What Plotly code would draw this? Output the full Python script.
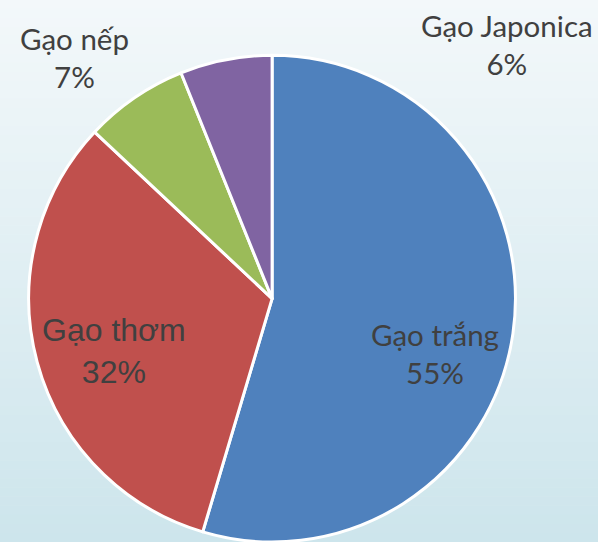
import plotly.graph_objects as go

labels = ['Gạo trắng', 'Gạo thơm', 'Gạo nếp', 'Gạo Japonica']
values = [54.6, 32.4, 6.9, 6.1]
colors = ['#4F81BD', '#C0504D', '#9BBB59', '#8064A2']

total = sum(values)
pcts = [f'{v / total * 100:.0f}%' for v in values]

fig = go.Figure(go.Pie(
    labels=labels, values=values, sort=False, direction='clockwise', rotation=0,
    marker=dict(colors=colors, line=dict(color='white', width=3)),
    textinfo='none', hoverinfo='label+percent', showlegend=False,
    domain=dict(x=[0.047, 0.863], y=[0.0, 0.898]),
))

# vertical background gradient (light to pale blue)
top, bot = (243, 248, 250), (205, 229, 236)
n = 60
for i in range(n):
    t = i / (n - 1)
    c = tuple(round(top[k] + (bot[k] - top[k]) * t) for k in range(3))
    fig.add_shape(type='rect', xref='paper', yref='paper', x0=0, x1=1,
                  y0=1 - (i + 1) / n, y1=1 - i / n + 0.001,
                  fillcolor='rgb(%d,%d,%d)' % c, line_width=0, layer='below')

# label positions (paper coords) and styling
arial = dict(family='Liberation Sans, Arial', size=32, color='#404040')
calibri = dict(family='Lato, Open Sans', size=29.5, color='#404040')
fonts = [calibri, arial, calibri, calibri]
pos = [(435 / 598, 1 - 353 / 542), (114 / 598, 1 - 351 / 542),
       (74 / 598, 1 - 57 / 542), (507 / 598, 1 - 45 / 542)]
for i, (lab, p) in enumerate(zip(labels, pcts)):
    fig.add_annotation(x=pos[i][0], y=pos[i][1], xref='paper', yref='paper',
                       xanchor='center', yanchor='middle',
                       text=lab + '<br>' + p, showarrow=False, font=fonts[i])

fig.update_layout(width=598, height=542, margin=dict(l=0, r=0, t=0, b=0),
                  paper_bgcolor='#eaf4f7', plot_bgcolor='rgba(0,0,0,0)')
fig.write_html('out.html', config={'displayModeBar': False},
               post_script="document.body.style.margin='0';")
